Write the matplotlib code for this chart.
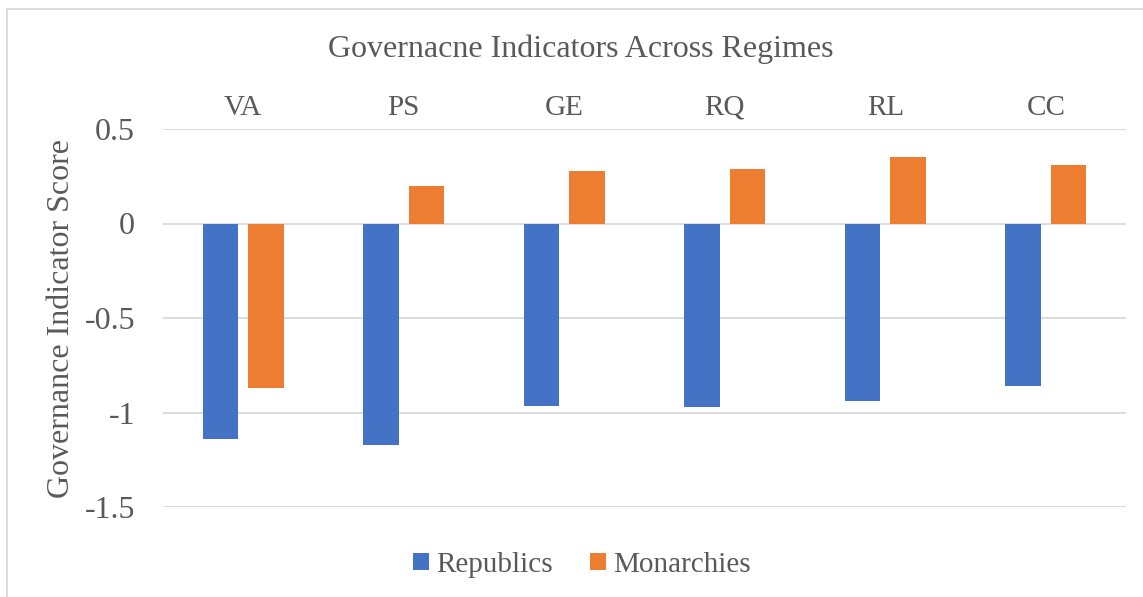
import matplotlib.pyplot as plt
from matplotlib.patches import Rectangle
import numpy as np

categories = ['VA', 'PS', 'GE', 'RQ', 'RL', 'CC']
republics = [-1.14, -1.17, -0.965, -0.97, -0.94, -0.862]
monarchies = [-0.868, 0.20, 0.28, 0.287, 0.35, 0.31]
yticks = [0.5, 0, -0.5, -1, -1.5]
ytick_labels = ['0.5', '0', '-0.5', '-1', '-1.5']

plt.rcParams['font.family'] = ['Liberation Serif', 'DejaVu Serif']
text_color = '#595959'
grid_color = '#d9d9d9'

fig = plt.figure(figsize=(11.43, 5.97), dpi=100)
ax = fig.add_axes([163 / 1143, 1 - 507 / 597, (1126 - 163) / 1143, (507 - 129) / 597])

x = np.arange(len(categories))
width = 0.221
offset = 0.142
ax.bar(x - offset, republics, width, color='#4472c4', label='Republics', zorder=3)
ax.bar(x + offset, monarchies, width, color='#ed7d31', label='Monarchies', zorder=3)

ax.set_xlim(-0.5, len(categories) - 0.5)
ax.set_ylim(-1.5, 0.5)
ax.set_yticks(yticks)
ax.set_yticklabels(ytick_labels)
ax.yaxis.grid(True, color=grid_color, linewidth=1.3, zorder=0)
ax.tick_params(axis='y', length=0, labelsize=23, labelcolor=text_color, pad=20)

ax.xaxis.tick_top()
ax.set_xticks(x)
ax.set_xticklabels(categories)
ax.tick_params(axis='x', length=0, labelsize=21, labelcolor=text_color, pad=6)

for s in ax.spines.values():
    s.set_visible(False)

ax.set_ylabel('Governance Indicator Score', fontsize=23, color=text_color)
ax.yaxis.set_label_coords(-(163 - 76) / (1126 - 163), 0.5)
fig.text(0.508, 1 - 49 / 597, 'Governacne Indicators Across Regimes', fontsize=23,
         color=text_color, ha='center', va='center')

leg = fig.legend(loc='center', bbox_to_anchor=(582 / 1143, 1 - 565 / 597), ncol=2, frameon=False,
                 fontsize=21, handlelength=0.52, handleheight=0.52, handletextpad=0.25,
                 columnspacing=1.3)
for t in leg.get_texts():
    t.set_color(text_color)

# chart border
fig.patches.append(Rectangle((7 / 1143, -0.05), 1.1, 1 - 9 / 597 + 0.05,
                             transform=fig.transFigure, fill=False,
                             edgecolor=grid_color, linewidth=1.3))

fig.savefig('out.png', dpi=100)
